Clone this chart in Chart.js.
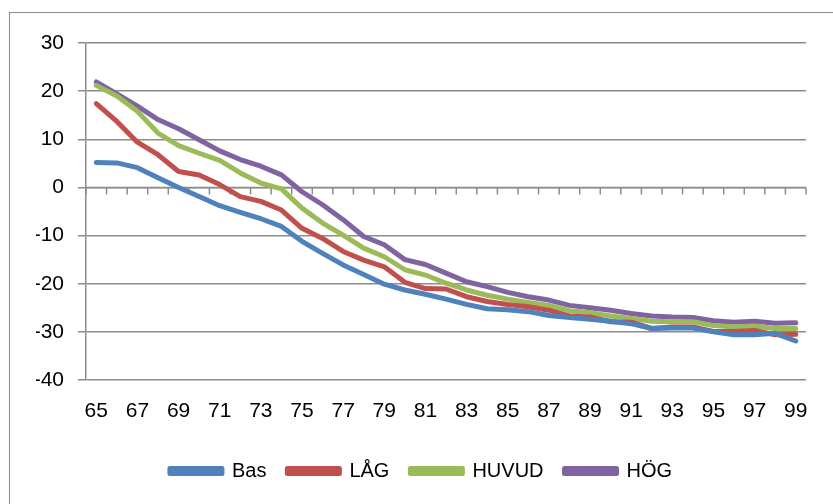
<!DOCTYPE html>
<html>
<head>
<meta charset="utf-8">
<script src="https://cdn.jsdelivr.net/npm/chart.js@4.4.1/dist/chart.umd.min.js"></script>
<style>
  html,body{margin:0;padding:0;background:#fff;}
  #wrap{position:relative;width:833px;height:504px;overflow:hidden;}
  #frame{position:absolute;left:9px;top:12px;width:900px;height:600px;border:1.5px solid #8c8c8c;box-sizing:border-box;}
  #chart{position:absolute;left:0;top:0;}
</style>
</head>
<body>
<div id="wrap">
  <div id="frame"></div>
  <canvas id="chart" width="833" height="504"></canvas>
</div>
<script>
// ── data ──────────────────────────────────────────────
const years=['65','66','67','68','69','70','71','72','73','74','75','76','77','78','79','80','81','82','83','84','85','86','87','88','89','90','91','92','93','94','95','96','97','98','99'];

const bas  =[5.2,5.1,4.1,2.0,0.0,-1.9,-3.8,-5.2,-6.5,-8.1,-11.2,-13.7,-16.1,-18.1,-20.1,-21.3,-22.2,-23.2,-24.3,-25.2,-25.4,-25.8,-26.6,-27.0,-27.4,-27.8,-28.3,-29.3,-29.2,-29.2,-30.0,-30.6,-30.6,-30.3,-31.9];
const lag  =[17.4,13.7,9.4,6.8,3.3,2.6,0.6,-1.9,-2.9,-4.7,-8.5,-10.6,-13.3,-15.1,-16.5,-19.7,-21.0,-21.1,-22.7,-23.7,-24.3,-24.8,-25.5,-26.7,-26.9,-27.9,-28.0,-29.3,-29.0,-29.0,-29.9,-29.9,-29.7,-30.6,-30.5];
const huvud=[21.2,19.0,15.8,11.3,8.7,7.1,5.6,3.0,0.9,-0.3,-4.3,-7.4,-9.9,-12.6,-14.4,-17.1,-18.2,-19.9,-21.3,-22.4,-23.2,-23.9,-24.5,-25.6,-26.0,-26.7,-27.2,-27.8,-27.9,-27.9,-28.7,-29.0,-28.8,-29.3,-29.3];
const hog  =[21.9,19.4,16.9,14.1,12.2,9.9,7.6,5.8,4.4,2.6,-0.9,-3.6,-6.7,-10.2,-11.9,-15.0,-16.0,-17.8,-19.6,-20.6,-21.8,-22.7,-23.4,-24.5,-25.0,-25.5,-26.2,-26.7,-26.9,-27.0,-27.7,-28.0,-27.8,-28.2,-28.1];

const yMin=-40, yMax=30, yStep=10;

const GRID='#8c8c8c';
const FONT='"Liberation Sans", Arial, sans-serif';

// zero line with category tick marks (x axis crosses at 0)
const zeroAxis={
  id:'zeroAxis',
  beforeDatasetsDraw(chart){
    const {ctx,scales:{x,y}}=chart;
    const y0=y.getPixelForValue(0);
    const step=(x.getPixelForValue(1)-x.getPixelForValue(0));
    ctx.save();
    ctx.strokeStyle=GRID;ctx.lineWidth=1.5;
    ctx.beginPath();
    ctx.moveTo(x.left,y0);ctx.lineTo(x.right,y0);
    for(let i=0;i<=years.length;i++){
      const px=x.getPixelForValue(0)-step/2+i*step;
      ctx.moveTo(px,y0);ctx.lineTo(px,y0+7);
    }
    ctx.stroke();
    ctx.restore();
  }
};

const mk=(label,data,color)=>({label,data,borderColor:color,backgroundColor:color,borderWidth:5,
  pointRadius:0,tension:0,fill:false,borderJoinStyle:'round',borderCapStyle:'round'});

new Chart(document.getElementById('chart'),{
  type:'line',
  data:{labels:years,datasets:[
    mk('Bas',bas,'#4f81bd'),
    mk('LÅG',lag,'#c0504d'),
    mk('HUVUD',huvud,'#9bbb59'),
    mk('HÖG',hog,'#8064a2'),
  ]},
  options:{
    responsive:false,animation:false,
    layout:{padding:{left:36,top:43,right:27,bottom:13}},
    plugins:{
      tooltip:{enabled:false},
      legend:{position:'bottom',labels:{color:'#000',font:{family:FONT,size:20},boxWidth:52,boxHeight:5,padding:21}}
    },
    scales:{
      x:{
        offset:true,
        grid:{display:false},
        border:{display:false},
        ticks:{color:'#000',font:{family:FONT,size:21},autoSkip:false,maxRotation:0,padding:11,
          callback:function(v,i){return i%2===0?this.getLabelForValue(v):'';}},
        afterFit:s=>{s.height=60;}
      },
      y:{
        min:yMin,max:yMax,
        ticks:{stepSize:yStep,color:'#000',font:{family:FONT,size:21},padding:14},
        grid:{color:GRID,lineWidth:1.5,tickLength:8},
        border:{color:GRID,width:1.5},
        afterFit:s=>{s.width=50;}
      }
    }
  },
  plugins:[zeroAxis]
});
</script>
</body>
</html>
